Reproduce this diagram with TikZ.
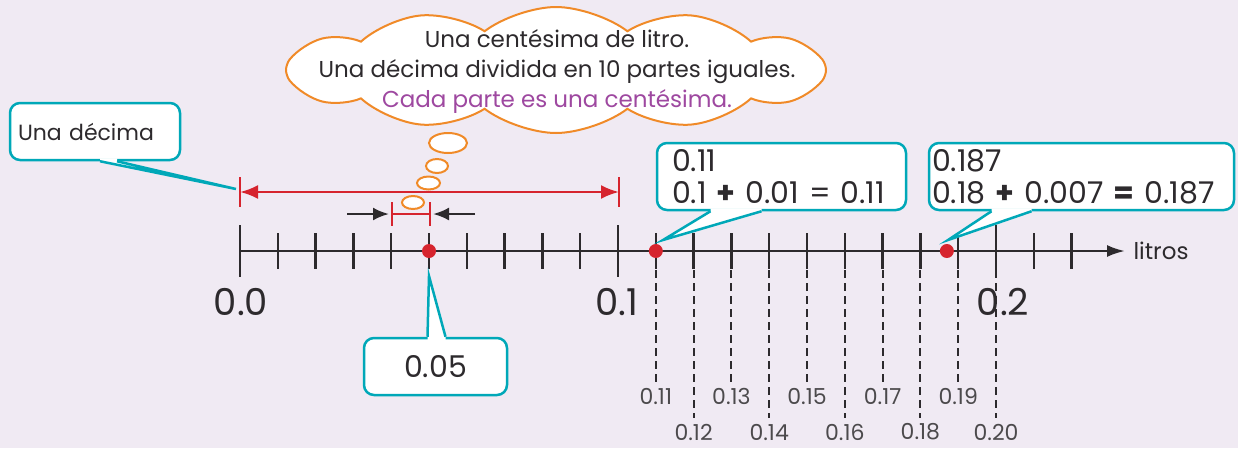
\documentclass[tikz,border=0pt]{standalone}
\usepackage{fontspec}
\setmainfont{Poppins}
\usetikzlibrary{shapes,arrows,arrows.meta,positioning,calc}
\definecolor{fondo}{RGB}{240,234,243}
\definecolor{turq}{RGB}{0,168,184}
\definecolor{rojo}{RGB}{214,36,46}
\definecolor{naranja}{RGB}{240,138,40}
\definecolor{morado}{RGB}{158,72,160}
\definecolor{tinta}{RGB}{45,42,45}
\newcommand{\pico}[6]{
  % punta del globo
  \fill[white] ($(#1.#2)+(#3,#6)$) -- ($(#1.#2)+(#3,0)$) -- (#5)
    -- ($(#1.#2)+(#4,0)$) -- ($(#1.#2)+(#4,#6)$) -- cycle;
  \draw[globo line] ($(#1.#2)+(#3,0)$) -- (#5) -- ($(#1.#2)+(#4,0)$);
}
\begin{document}
\begin{tikzpicture}[x=1pt,y=-1pt,
  globo/.style={draw=turq,line width=2.5pt,fill=white,rounded corners=10pt,
    inner ysep=0pt,text=tinta,font=\fontsize{30}{32}\selectfont},
  globo line/.style={draw=turq,line width=2.5pt,line join=miter},
  burbuja/.style={ellipse,draw=naranja,line width=2pt,fill=white,inner sep=0pt},
  punto/.style={circle,fill=rojo,inner sep=0pt,minimum size=14pt},
  marca/.style={line width=2.5pt,draw=tinta},
  guia/.style={line width=2pt,draw=tinta,dash pattern=on 8pt off 5pt},
  cota/.style={line width=2.5pt,draw=rojo},
  chica/.style={text=tinta!85,font=\fontsize{22}{24}\selectfont},
  grande/.style={text=tinta,font=\fontsize{37}{40}\selectfont}]
\fill[fondo] (0,0) rectangle (1238,448);
\useasboundingbox (0,0) rectangle (1238,448);

% recta numerica
\coordinate (inicio) at (240,251);
\coordinate (fin) at (1125,251);
\draw[marca,-{Latex[length=18pt,width=12pt]}] (inicio) -- (fin);
\node[right=5pt of fin,text=tinta,font=\fontsize{23}{26}\selectfont] (litros) {litros};
\foreach \i in {0,...,22}
  \draw[marca] (240+37.8*\i,233) -- ++(0,36);
\foreach \i in {0,10,20}
  \draw[marca] (240+37.8*\i,225) -- ++(0,52);
\node[grande] (n0) at (241,302) {0.0};
\node[grande] (n1) at (617,302) {0.1};
\node[grande] (n2) at (1003,302) {0.2};

% centesimas
\foreach \i in {11,13,...,19} {
  \draw[guia] (240+37.8*\i,270) -- ++(0,113);
  \node[chica] (l\i) at (240+37.8*\i,396) {0.\i};
}
\foreach \i in {12,14,...,20} {
  \draw[guia] (240+37.8*\i,270) -- ++(0,148);
  \node[chica] (l\i) at (240+37.8*\i,432) {0.\i};
}

% cotas
\coordinate (ci) at (240,192);
\coordinate (cf) at (619,192);
\draw[cota] ($(ci)+(0,-15)$) -- ++(0,30);
\draw[cota] ($(cf)+(0,-15)$) -- ++(0,30);
\draw[cota,{Latex[length=18pt,width=14pt]}-{Latex[length=18pt,width=14pt]}] (ci) -- (cf);
\coordinate (si) at (392,214);
\coordinate (sf) at (430,214);
\draw[cota] ($(si)+(0,-12)$) -- ++(0,24);
\draw[cota] ($(sf)+(0,-12)$) -- ++(0,24);
\draw[cota] (si) -- (sf);
\coordinate (fi) at (347,214);
\coordinate (fd) at (475,214);
\draw[marca,-{Latex[length=16pt,width=13pt]}] (fi) -- ($(si)+(-3,0)$);
\draw[marca,-{Latex[length=16pt,width=13pt]}] (fd) -- ($(sf)+(3,0)$);

% puntos
\node[punto] (d05) at (240+37.8*5,251) {};
\node[punto] (d11) at (240+37.8*11,251) {};
\node[punto] (d187) at (240+37.8*18.7,251) {};

% nube
\node[cloud,cloud puffs=12,cloud puff arc=75,cloud ignores aspect,
  draw=naranja,line width=2pt,fill=white,
  minimum width=540pt,minimum height=126pt] (nube) at (556,70) {};
\node[align=center,text=tinta,font=\fontsize{23}{30}\selectfont] (textonube) at (557,71)
  {Una centésima de litro.\\Una décima dividida en 10 partes iguales.\\
   \textcolor{morado}{Cada parte es una centésima.}};
\node[burbuja,minimum width=38pt,minimum height=20pt] (b1) at (448,143) {};
\node[burbuja,minimum width=22pt,minimum height=14pt] (b2) at (437,166) {};
\node[burbuja,minimum width=23pt,minimum height=13pt] (b3) at (428.5,183) {};
\node[burbuja,minimum width=22pt,minimum height=13pt] (b4) at (413,202.5) {};

% globos
\node[globo,minimum height=57pt,inner xsep=8pt,text width=154pt,align=left,
  font=\fontsize{22}{26}\selectfont] (cdecima) at (95,131.5) {Una décima};
\coordinate (pdecima) at (236,189);
\pico{cdecima}{south}{5}{22}{pdecima}{-3}

\node[globo,minimum height=67pt,inner xsep=15pt,text width=219pt,align=left]
  (c011) at (781.5,176.5) {0.11\\0.1 \textbf{+} 0.01 = 0.11};
\coordinate (p11) at (663,240);
\pico{c011}{south}{-71}{-20}{p11}{-3}

\node[globo,minimum height=67pt,inner xsep=3pt,text width=299pt,align=left]
  (c187) at (1081.5,176.5) {0.187\\0.18 \textbf{+} 0.007 \textbf{=} 0.187};
\coordinate (p187) at (948,240);
\pico{c187}{south}{-90}{-50}{p187}{-3}

\node[globo,minimum width=143pt,minimum height=57pt] (c005) at (435.5,366.5) {0.05};
\coordinate (p05) at (429,276);
\pico{c005}{north}{-8}{10}{p05}{3}
\end{tikzpicture}
\end{document}
